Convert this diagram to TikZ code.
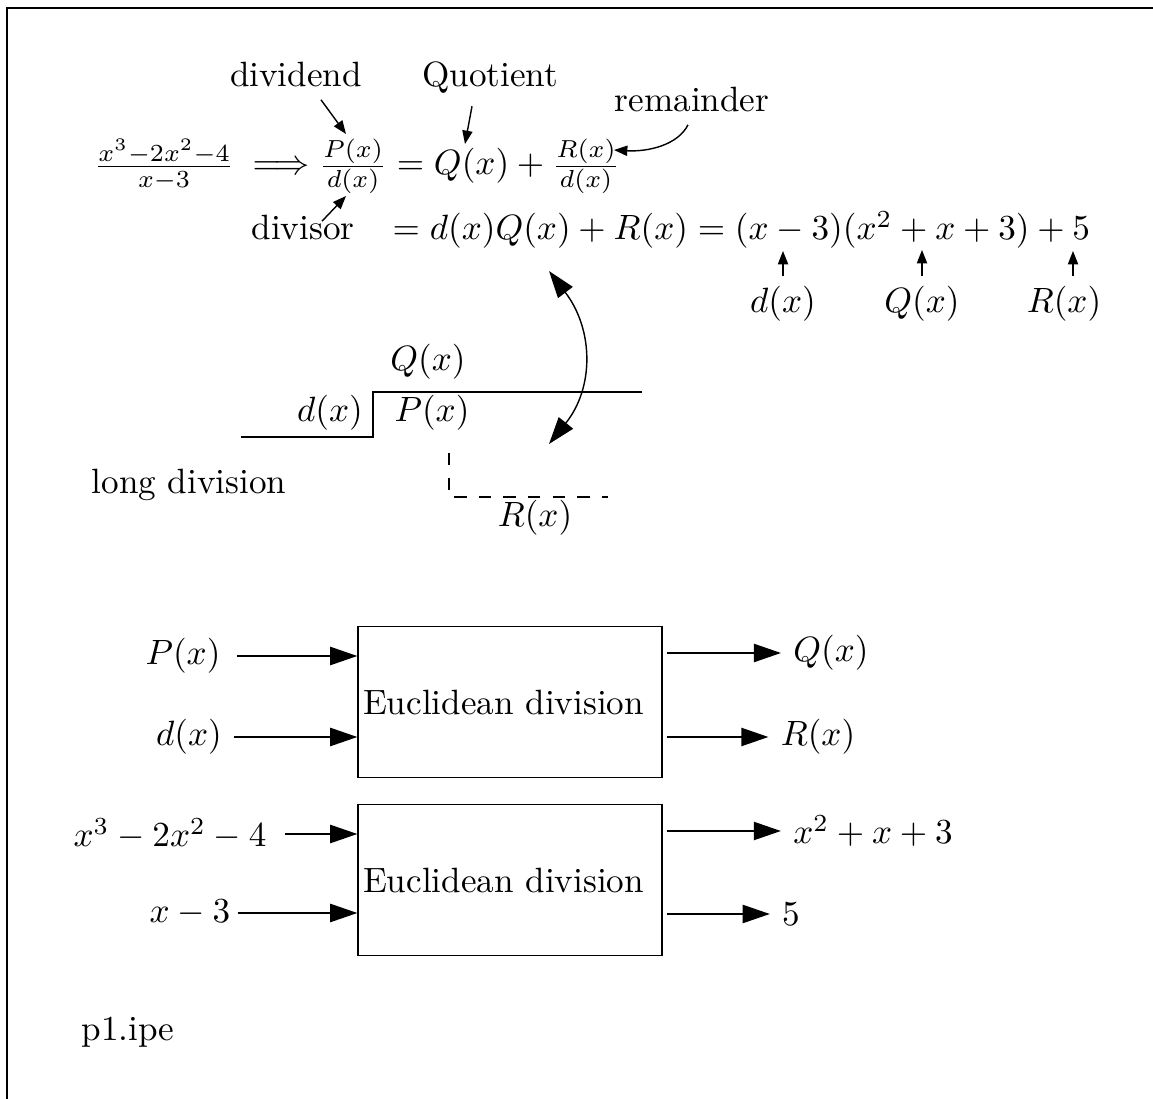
\documentclass[tikz,border=0pt]{standalone}
\usepackage{amsmath,amssymb}
\usepackage{tikz}
\usetikzlibrary{arrows.meta,positioning,calc}

\begin{document}
\begin{tikzpicture}[x=0.1mm, y=-0.1mm, line width=0.4pt, line join=miter,
    bigtip/.style={-{Triangle[length=7.7pt,width=5.2pt]}},
    smalltip/.style={-{Triangle[length=3.8pt,width=2.9pt]}},
    divbox/.style={draw, minimum width=30.4mm, minimum height=15.1mm,
                   text width=29.4mm, align=left, inner xsep=0.5mm}]
    \useasboundingbox (0,0) rectangle (1153,1099);

    % ── page frame (only top and left edges show) ─────────────────────────
    \draw (7,1099) -- (7,8) -- (1153,8);

    % ── the identity P/d = Q + R/d and its example ────────────────────────
    \node[anchor=base] (frac) at (164,175) {$\frac{x^3-2x^2-4}{x-3}$};
    \node[anchor=base west, inner sep=0pt] (eqtop) at (252,175)
      {$\Longrightarrow \frac{P(x)}{d(x)} = Q(x) + \frac{R(x)}{d(x)}$};
    \node[anchor=base west, inner sep=0pt] (eqbot) at (392,240)
      {$= d(x)Q(x) + R(x) = (x-3)(x^2+x+3)+5$};

    % names of the parts
    \node[anchor=base] (dividend) at (296,87)  {dividend};
    \node[anchor=base] (quot)     at (490,87)  {Quotient};
    \node[anchor=base] (remd)     at (692,112) {remainder};
    \node[anchor=base] (divisor)  at (303,240) {divisor};
    \coordinate (Ptip) at (346,134);
    \coordinate (Qtip) at (465,144);
    \coordinate (dtip) at (346,196);
    \coordinate (Rtip) at (614,150);
    \draw[smalltip] ([xshift=2.5mm]dividend.south) -- (Ptip);
    \draw[smalltip] ([xshift=-1.8mm]quot.south) -- (Qtip);
    \draw[smalltip] ([shift={(1.9mm,-1.8mm)}]divisor.north) -- (dtip);
    \draw[smalltip] ([xshift=-0.4mm]remd.south) .. controls (678,145) and (648,152) .. (Rtip);

    % factors of the example
    \node (exd) at (783,304)  {$d(x)$};
    \node (exQ) at (922,304)  {$Q(x)$};
    \node (exR) at (1064,304) {$R(x)$};
    \coordinate (dmark) at (783,251);
    \coordinate (Qmark) at (922,250);
    \coordinate (Rmark) at (1073,251);
    \draw[smalltip] ([yshift=-0.2mm]exd.north) -- (dmark);
    \draw[smalltip] ([yshift=-0.2mm]exQ.north) -- (Qmark);
    \draw[smalltip] ([yshift=-0.2mm]exR.north -| Rmark) -- (Rmark);

    % ── long division scheme ──────────────────────────────────────────────
    \draw (241,437) -- (373,437) -- (373,392) -- (642,392);
    \draw[dash pattern=on 3.5pt off 3.5pt] (449,453) -- (449,497) -- (608,497);
    \node (ldQ) at (428,362) {$Q(x)$};
    \node (ldd) at (330,413) {$d(x)$};
    \node (ldP) at (432,413) {$P(x)$};
    \node (ldR) at (535,518) {$R(x)$};
    \node (ldtxt) at (189,485) {long division};

    % both ways between the identity and the scheme
    \coordinate (linkA) at (549,271);
    \coordinate (linkB) at (549,444);
    \draw[{Triangle[length=7.7pt,width=5.2pt]}-{Triangle[length=7.7pt,width=5.2pt]}]
      (linkA) .. controls (594,330) and (594,388) .. (linkB);

    % ── Euclidean division as a block ─────────────────────────────────────
    \node[divbox] (eu1) at (510,702) {Euclidean division\\[-0.5mm]};
    \node (inP)  at (183,656) {$P(x)$};
    \node (ind)  at (189,737) {$d(x)$};
    \node (outQ) at (831,653) {$Q(x)$};
    \node (outR) at (818,737) {$R(x)$};
    \draw[bigtip] ([xshift=0.4mm]inP.east) -- (inP.east -| eu1.west);
    \draw[bigtip] (ind.east) -- (ind.east -| eu1.west);
    \draw[bigtip] ([xshift=0.4mm]outQ.west -| eu1.east) -- (outQ.west);
    \draw[bigtip] ([xshift=0.4mm]outR.west -| eu1.east) -- (outR.west);

    % the same block on the example
    \node[divbox] (eu2) at (510,880) {Euclidean division\\[-0.5mm]};
    \node (inP2)  at (170,834) {$x^3-2x^2-4$};
    \node (ind2)  at (190,913) {$x-3$};
    \node (outQ2) at (873,831) {$x^2+x+3$};
    \node (outR2) at (791,914) {$5$};
    \draw[bigtip] ([xshift=0.6mm]inP2.east) -- (inP2.east -| eu2.west);
    \draw[bigtip] ([xshift=-0.5mm]ind2.east) -- (ind2.east -| eu2.west);
    \draw[bigtip] ([xshift=0.4mm]outQ2.west -| eu2.east) -- (outQ2.west);
    \draw[bigtip] ([xshift=0.4mm]outR2.west -| eu2.east) -- (outR2.west);

    \node (fname) at (128,1032) {p1.ipe};
\end{tikzpicture}
\end{document}
